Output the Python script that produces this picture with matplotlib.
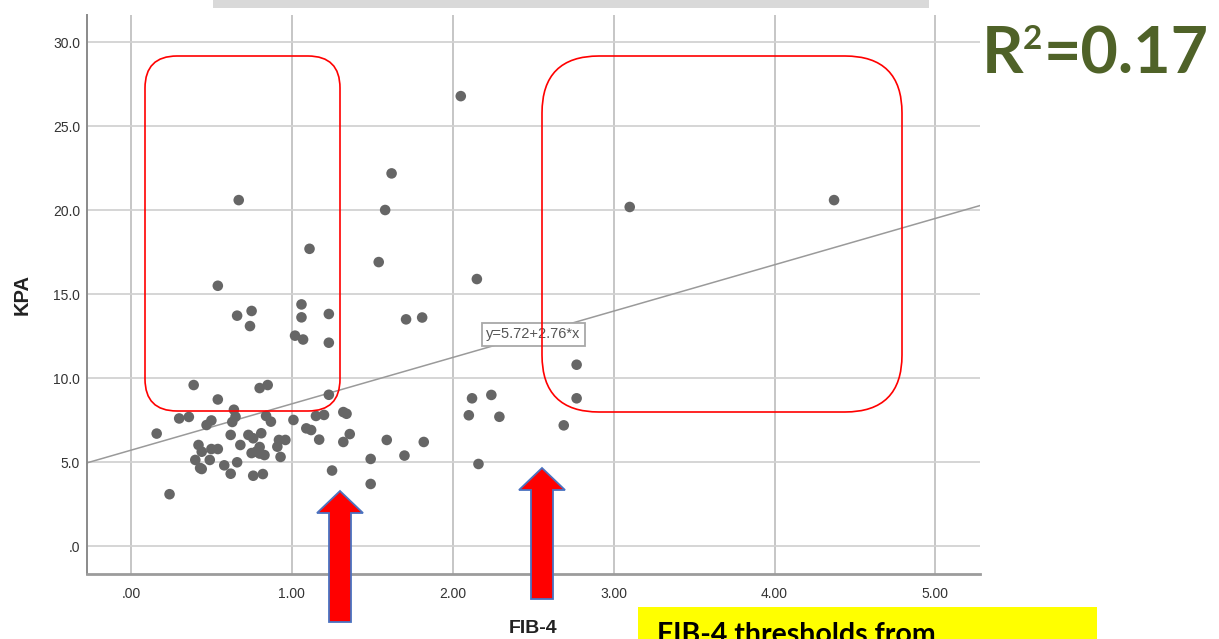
import matplotlib
matplotlib.use("Agg")
import matplotlib.pyplot as plt
from matplotlib.patches import FancyBboxPatch, Polygon, Rectangle

# values (FIB-4 on x, KPA on y)
fib4 = [0.67, 1.11, 0.54, 1.06, 0.66, 0.75, 0.74, 1.06, 1.23, 1.02,
	1.07, 1.23, 0.39, 0.80, 0.85, 0.54, 1.23, 0.30, 0.36, 0.16,
	0.47, 0.50, 0.64, 0.65, 0.63, 0.84, 0.87, 1.01, 1.15, 1.20,
	1.32, 1.34, 1.09, 1.12, 1.17, 1.32, 1.36, 1.59, 0.62, 0.73,
	0.76, 0.81, 0.92, 0.96, 0.91, 0.68, 0.80, 0.42, 0.44, 0.50,
	0.54, 0.75, 0.78, 0.80, 0.83, 0.93, 0.40, 0.43, 0.44, 0.49,
	0.58, 0.66, 0.62, 0.76, 0.82, 1.25, 1.49, 1.49, 0.24, 1.82,
	1.70, 2.12, 2.24, 2.10, 2.29, 2.16, 1.71, 1.81, 2.77, 2.77,
	2.69, 2.05, 1.62, 1.58, 3.10, 1.54, 2.15, 4.37]
kpa = [20.61, 17.71, 15.51, 14.40, 13.73, 14.01, 13.11, 13.63, 13.83, 12.54,
	12.31, 12.12, 9.60, 9.42, 9.60, 8.74, 9.02, 7.61, 7.70, 6.71,
	7.22, 7.49, 8.13, 7.71, 7.40, 7.76, 7.42, 7.52, 7.76, 7.82,
	7.99, 7.89, 7.02, 6.92, 6.35, 6.21, 6.68, 6.33, 6.63, 6.63,
	6.43, 6.73, 6.33, 6.33, 5.93, 6.03, 5.91, 6.03, 5.63, 5.79,
	5.79, 5.55, 5.64, 5.52, 5.43, 5.32, 5.14, 4.66, 4.60, 5.14,
	4.82, 5.00, 4.32, 4.20, 4.30, 4.51, 5.20, 3.71, 3.10, 6.21,
	5.40, 8.81, 9.01, 7.80, 7.71, 4.90, 13.51, 13.62, 10.81, 8.81,
	7.20, 26.80, 22.20, 20.02, 20.20, 16.92, 15.91, 20.61]

intercept = 5.72
slope = 2.76
r_squared = "0.17"
fit_label_x = 2.5

x_ticks = [0, 1, 2, 3, 4, 5]
x_tick_labels = [".00", "1.00", "2.00", "3.00", "4.00", "5.00"]
y_ticks = [0, 5, 10, 15, 20, 25, 30]
y_tick_labels = [".0", "5.0", "10.0", "15.0", "20.0", "25.0", "30.0"]

W, H = 1219, 639


def draw_scatter(ax):
	"""SPSS style scatter with fit line and its equation box."""
	ax.set_xlim(-0.273, 5.277)
	ax.set_ylim(-1.65, 31.63)

	ax.grid(True, color="#d2d2d2", linewidth=1.3, zorder=0)
	ax.xaxis.grid(True, color="#c2c2c2", linewidth=1.3)
	ax.set_axisbelow(True)

	x0, x1 = ax.get_xlim()
	ax.plot([x0, x1], [intercept + slope * x0, intercept + slope * x1],
		color="#9a9a9a", linewidth=1.1, zorder=2)

	ax.scatter(fib4, kpa, s=58, color="#666666", edgecolors="none", zorder=3)

	ax.text(fit_label_x, intercept + slope * fit_label_x,
		"y=%.2f+%.2f*x" % (intercept, slope),
		ha="center", va="center", fontsize=10.5, color="#555555", zorder=4,
		bbox=dict(boxstyle="square,pad=0.3", facecolor="white",
			edgecolor="#a8a8a8", linewidth=1.3))

	ax.set_xticks(x_ticks)
	ax.set_xticklabels(x_tick_labels)
	ax.set_yticks(y_ticks)
	ax.set_yticklabels(y_tick_labels)
	ax.tick_params(axis="both", length=0, labelsize=10, labelcolor="#333333")
	ax.tick_params(axis="x", pad=9)
	ax.tick_params(axis="y", pad=5)

	for side in ("top", "right"):
		ax.spines[side].set_visible(False)
	ax.spines["left"].set_color("#8a8a8a")
	ax.spines["left"].set_linewidth(1.4)
	ax.spines["bottom"].set_color("#9c9c9c")
	ax.spines["bottom"].set_linewidth(2)

	ax.set_xlabel("FIB-4", fontsize=14, fontweight="bold", color="#222222")
	ax.set_ylabel("KPA", fontsize=14.5, fontweight="bold", color="#222222")
	ax.xaxis.set_label_coords(0.5, -0.083)
	ax.yaxis.set_label_coords(-0.062, 0.5)


def up_arrow(tip_x, tip_y, bottom, head_h=22, head_w=23, shaft_w=11):
	return [(tip_x, tip_y), (tip_x + head_w, tip_y + head_h),
		(tip_x + shaft_w, tip_y + head_h), (tip_x + shaft_w, bottom),
		(tip_x - shaft_w, bottom), (tip_x - shaft_w, tip_y + head_h),
		(tip_x - head_w, tip_y + head_h)]


def text_right_edge(fig, ov, t):
	bb = t.get_window_extent(renderer=fig.canvas.get_renderer())
	return ov.transData.inverted().transform((bb.x1, bb.y0))[0]


def draw_overlay(fig, ov):
	"""Slide decorations in pixel coordinates."""
	ov.set_xlim(0, W)
	ov.set_ylim(H, 0)
	ov.axis("off")

	# grey bar at the top
	ov.add_patch(Rectangle((213, 0), 716, 8, facecolor="#d9d9d9", edgecolor="none"))

	# red highlight boxes
	ov.add_patch(FancyBboxPatch((145, 56), 195, 355,
		boxstyle="round,pad=0,rounding_size=32",
		facecolor="none", edgecolor="#ff0000", linewidth=1.2))
	ov.add_patch(FancyBboxPatch((542, 56), 360, 356,
		boxstyle="round,pad=0,rounding_size=57",
		facecolor="none", edgecolor="#ff0000", linewidth=1.2))

	# arrows at the thresholds
	ov.add_patch(Polygon(up_arrow(340, 491, 622), closed=True,
		facecolor="#ff0000", edgecolor="#4a72c0", linewidth=1.3))
	ov.add_patch(Polygon(up_arrow(542, 468, 599), closed=True,
		facecolor="#ff0000", edgecolor="#4a72c0", linewidth=1.3))

	# R^2 label built from pieces so the superscript stays small
	green = "#4f6228"
	fig.canvas.draw()
	t = ov.text(982, 73, "R", fontsize=46.5, fontweight="bold", family="Lato",
		color=green, ha="left", va="baseline")
	x = text_right_edge(fig, ov, t)
	t = ov.text(x - 1, 49, "2", fontsize=24, fontweight="bold", family="Lato",
		color=green, ha="left", va="baseline")
	x = text_right_edge(fig, ov, t)
	ov.text(x + 2, 73, "=" + r_squared, fontsize=46.5, fontweight="bold",
		family="Lato", color=green, ha="left", va="baseline")

	# yellow note, cut off at the slide edge like the source
	ov.add_patch(Rectangle((638, 607), 459, 40, facecolor="#ffff00", edgecolor="none"))
	ov.text(657, 643, "FIB-4 thresholds from", fontsize=20.5, fontweight="bold",
		family="Lato", color="black", ha="left", va="baseline")


def main():
	plt.rcParams["font.family"] = ["Liberation Sans", "DejaVu Sans"]

	fig = plt.figure(figsize=(W / 100, H / 100), dpi=100)
	ax = fig.add_axes([87 / W, (H - 574) / H, 893 / W, 559 / H])
	draw_scatter(ax)

	ov = fig.add_axes([0, 0, 1, 1], facecolor="none")
	draw_overlay(fig, ov)

	fig.savefig("out.png", dpi=100)


if __name__ == "__main__":
	main()
